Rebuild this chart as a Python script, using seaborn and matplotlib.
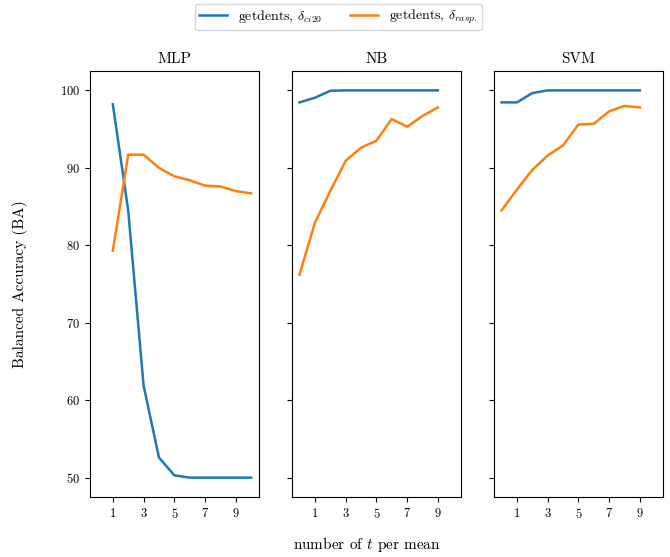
import matplotlib
matplotlib.use("Agg")
import matplotlib.pyplot as plt
import seaborn as sns
import pandas as pd

plt.rcParams.update({
    "font.family": "serif",
    "font.serif": ["cmr10", "DejaVu Serif"],
    "mathtext.fontset": "cm",
    "axes.formatter.use_mathtext": True,
    "axes.unicode_minus": False,
})

# Balanced accuracy per classifier vs. number of t per mean
classifiers = ["MLP", "NB", "SVM"]
series_names = [r"getdents, $\delta_{ci20}$", r"getdents, $\delta_{rasp.}$"]
colors = ["#1f77b4", "#ff7f0e"]

t_mlp = [1, 2, 3, 4, 5, 6, 7, 8, 9, 10]
t_other = [0, 1, 2, 3, 4, 5, 6, 7, 8, 9]

mlp_ci20 = [98.2, 84.5, 61.9, 52.6, 50.3, 50.0, 50.0, 50.0, 50.0, 50.0]
mlp_rasp = [79.3, 91.7, 91.7, 90.0, 88.9, 88.4, 87.7, 87.6, 87.0, 86.7]

nb_ci20 = [98.45, 99.05, 99.95, 100.0, 100.0, 100.0, 100.0, 100.0, 100.0, 100.0]
nb_rasp = [76.2, 82.9, 87.0, 90.9, 92.6, 93.5, 96.3, 95.3, 96.7, 97.8]

svm_ci20 = [98.45, 98.45, 99.65, 100.0, 100.0, 100.0, 100.0, 100.0, 100.0, 100.0]
svm_rasp = [84.5, 87.2, 89.75, 91.6, 92.9, 95.6, 95.7, 97.3, 98.0, 97.8]

xticks = [1, 3, 5, 7, 9]

panels = {
    "MLP": (t_mlp, mlp_ci20, mlp_rasp),
    "NB": (t_other, nb_ci20, nb_rasp),
    "SVM": (t_other, svm_ci20, svm_rasp),
}

frames = []
for clf, (ts, ci20, rasp) in panels.items():
    for name, vals in zip(series_names, [ci20, rasp]):
        frames.append(pd.DataFrame({"clf": clf, "t": ts, "BA": vals, "series": name}))
df = pd.concat(frames, ignore_index=True)

fig, axes = plt.subplots(1, 3, figsize=(6.7, 5.57), dpi=100, sharex=True, sharey=True)
fig.subplots_adjust(left=0.134, right=0.9895, top=0.8725, bottom=0.1077, wspace=0.195)

for ax, clf in zip(axes, classifiers):
    sub = df[df["clf"] == clf]
    sns.lineplot(data=sub, x="t", y="BA", hue="series", hue_order=series_names,
                 palette=colors, ax=ax, legend=False, linewidth=1.8)
    ax.set_title(clf, fontsize=11)
    ax.set_xticks(xticks)
    ax.set_xlabel("")
    ax.set_ylabel("")
    ax.tick_params(labelsize=9)

axes[0].set_yticks([50, 60, 70, 80, 90, 100])
fig.text(20 / 670, 1 - 284 / 557, "Balanced Accuracy (BA)", rotation=90,
         ha="center", va="center", fontsize=11)
fig.text(0.548, 1 - 545 / 557, r"number of $t$ per mean", ha="center", va="center", fontsize=11)

handles = [plt.Line2D([], [], color=c, linewidth=1.8) for c in colors]
fig.legend(handles, series_names, loc="upper center", ncol=2, fontsize=10,
           bbox_to_anchor=(0.505, 1.006), columnspacing=2.0, borderpad=0.3)

fig.savefig("out.png", dpi=100)
